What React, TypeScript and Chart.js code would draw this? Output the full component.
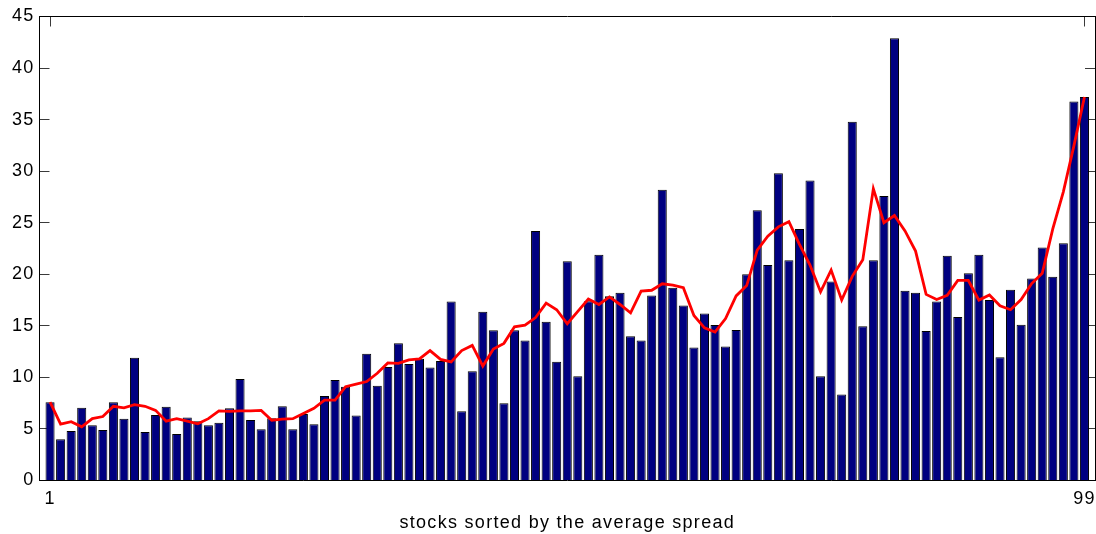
import React, { useEffect, useRef } from "react";
import { Chart, registerables } from "chart.js";

Chart.register(...registerables);

// stock rank (sorted by average spread)
const stocks = [
  1, 2, 3, 4, 5, 6, 7, 8, 9, 10, 11, 12, 13, 14, 15, 16, 17, 18, 19, 20,
  21, 22, 23, 24, 25, 26, 27, 28, 29, 30, 31, 32, 33, 34, 35, 36, 37, 38, 39, 40,
  41, 42, 43, 44, 45, 46, 47, 48, 49, 50, 51, 52, 53, 54, 55, 56, 57, 58, 59, 60,
  61, 62, 63, 64, 65, 66, 67, 68, 69, 70, 71, 72, 73, 74, 75, 76, 77, 78, 79, 80,
  81, 82, 83, 84, 85, 86, 87, 88, 89, 90, 91, 92, 93, 94, 95, 96, 97, 98, 99,
];

// bar values
const spread = [
  7.6, 4.0, 4.8, 7.05, 5.36, 4.9, 7.6, 6.0, 11.9, 4.7,
  6.36, 7.15, 4.5, 6.1, 5.75, 5.36, 5.6, 7.0, 9.85, 5.86,
  4.97, 6.03, 7.2, 4.97, 6.46, 5.46, 8.2, 9.74, 9.1, 6.3,
  12.3, 9.2, 11.0, 13.3, 11.3, 11.8, 10.96, 11.6, 17.35, 6.72,
  10.6, 16.36, 14.57, 7.5, 14.57, 13.58, 24.2, 15.4, 11.52, 21.27,
  10.1, 17.39, 21.9, 17.88, 18.2, 14.0, 13.58, 17.94, 28.2, 18.7,
  16.97, 12.9, 16.2, 15.07, 13.0, 14.6, 20.0, 26.2, 20.9, 29.8,
  21.36, 24.4, 29.1, 10.1, 19.3, 8.34, 34.8, 14.97, 21.36, 27.6,
  42.9, 18.4, 18.2, 14.5, 17.35, 21.8, 15.86, 20.1, 21.9, 17.5,
  11.95, 18.5, 15.1, 19.6, 22.6, 19.77, 23.0, 36.75, 37.2,
];

// red line values
const trend = [
  7.6, 5.46, 5.7, 5.2, 6.0, 6.2, 7.2, 7.05, 7.35, 7.2,
  6.8, 5.75, 6.0, 5.75, 5.5, 6.0, 6.75, 6.7, 6.75, 6.75,
  6.8, 5.85, 5.96, 6.0, 6.5, 7.0, 7.8, 7.8, 9.1, 9.35,
  9.6, 10.4, 11.4, 11.36, 11.7, 11.8, 12.6, 11.75, 11.5, 12.6,
  13.1, 11.1, 12.75, 13.3, 14.9, 15.07, 15.8, 17.2, 16.56, 15.2,
  16.4, 17.6, 17.07, 17.8, 17.07, 16.26, 18.36, 18.45, 19.08, 18.95,
  18.7, 16.0, 14.8, 14.4, 15.7, 17.9, 18.9, 22.35, 23.7, 24.6,
  25.1, 22.9, 20.9, 18.3, 20.4, 17.5, 19.8, 21.4, 28.3, 25.0,
  25.7, 24.2, 22.25, 18.05, 17.55, 17.95, 19.4, 19.4, 17.5, 18.0,
  16.95, 16.56, 17.55, 19.1, 20.1, 24.4, 28.0, 32.45, 37.2,
];

const xTickValues = [1, 99];
const xTitle = "stocks sorted by the average spread";

const FONT = "'Liberation Sans', Arial, Helvetica, sans-serif";
const TICK_COLOR = "#3a3a3a";

function noPad(s: any) {
  s.paddingLeft = 0;
  s.paddingRight = 0;
  s.paddingTop = 0;
  s.paddingBottom = 0;
}

export default function App() {
  const ref = useRef<HTMLCanvasElement>(null);

  useEffect(() => {
    if (!ref.current) return;
    const spacingPlugin = {
      id: "letterSpacing",
      beforeDraw(chart: any) {
        try {
          (chart.ctx as any).letterSpacing = "1.3px";
        } catch (e) {}
      },
    };
    const tickFont = { family: FONT, size: 18 };
    const chart = new Chart(ref.current, {
      type: "bar",
      data: {
        datasets: [
          {
            type: "line",
            data: stocks.map((s, i) => ({ x: s, y: trend[i] })),
            borderColor: "#ff0000",
            borderWidth: 2.8,
            pointRadius: 0,
            tension: 0,
            fill: false,
            order: 0,
            xAxisID: "x",
            yAxisID: "y",
          } as any,
          {
            type: "bar",
            data: stocks.map((s, i) => ({ x: s, y: spread[i] })),
            backgroundColor: "#000080",
            borderColor: "#000000",
            borderWidth: 1,
            barPercentage: 0.86,
            categoryPercentage: 1,
            order: 1,
            xAxisID: "x",
            yAxisID: "y",
          } as any,
        ],
      },
      options: {
        responsive: false,
        animation: false,
        layout: { padding: { top: 0, right: 1, left: 0, bottom: 0 } },
        plugins: {
          legend: { display: false },
          tooltip: { enabled: false },
        },
        scales: {
          x: {
            type: "linear",
            position: "bottom",
            min: 0,
            max: 100,
            offset: false,
            afterBuildTicks: (s: any) => {
              s.ticks = xTickValues.map((v) => ({ value: v }));
            },
            afterFit: (s: any) => {
              s.height = 53.5;
              noPad(s);
            },
            grid: {
              offset: false,
              drawOnChartArea: false,
              drawTicks: true,
              tickLength: -10,
              color: TICK_COLOR,
            },
            border: { display: true, color: "#000", width: 1 },
            ticks: {
              padding: 18,
              font: tickFont,
              color: "#000",
              maxRotation: 0,
              autoSkip: false,
              callback: (v: any) => String(v),
            },
            title: {
              display: true,
              text: xTitle,
              font: tickFont,
              color: "#000",
              padding: { top: 0, bottom: 0 },
            },
          },
          x2: {
            type: "linear",
            position: "top",
            min: 0,
            max: 100,
            offset: false,
            afterBuildTicks: (s: any) => {
              s.ticks = xTickValues.map((v) => ({ value: v }));
            },
            afterFit: (s: any) => {
              s.height = 16.5;
              noPad(s);
            },
            grid: {
              offset: false,
              drawOnChartArea: false,
              drawTicks: true,
              tickLength: -10,
              color: TICK_COLOR,
            },
            border: { display: true, color: "#000", width: 1 },
            ticks: { display: false, autoSkip: false },
          },
          y: {
            type: "linear",
            position: "left",
            min: 0,
            max: 45,
            afterFit: (s: any) => {
              s.width = 39.5;
              noPad(s);
            },
            grid: {
              drawOnChartArea: false,
              drawTicks: true,
              tickLength: -10,
              color: TICK_COLOR,
            },
            border: { display: true, color: "#000", width: 1 },
            ticks: {
              stepSize: 5,
              padding: 15,
              font: tickFont,
              color: "#000",
            },
          },
          y2: {
            type: "linear",
            position: "right",
            min: 0,
            max: 45,
            afterFit: (s: any) => {
              s.width = 0;
              noPad(s);
            },
            grid: {
              drawOnChartArea: false,
              drawTicks: true,
              tickLength: -10,
              color: TICK_COLOR,
            },
            border: { display: true, color: "#000", width: 1 },
            ticks: { display: false, stepSize: 5 },
          },
        },
      } as any,
      plugins: [spacingPlugin],
    });
    return () => chart.destroy();
  }, []);

  return (
    <div
      style={{
        position: "fixed",
        left: 0,
        top: 0,
        width: 1096,
        height: 534,
        background: "#ffffff",
      }}
    >
      <canvas ref={ref} width={1096} height={534} style={{ display: "block" }} />
    </div>
  );
}
